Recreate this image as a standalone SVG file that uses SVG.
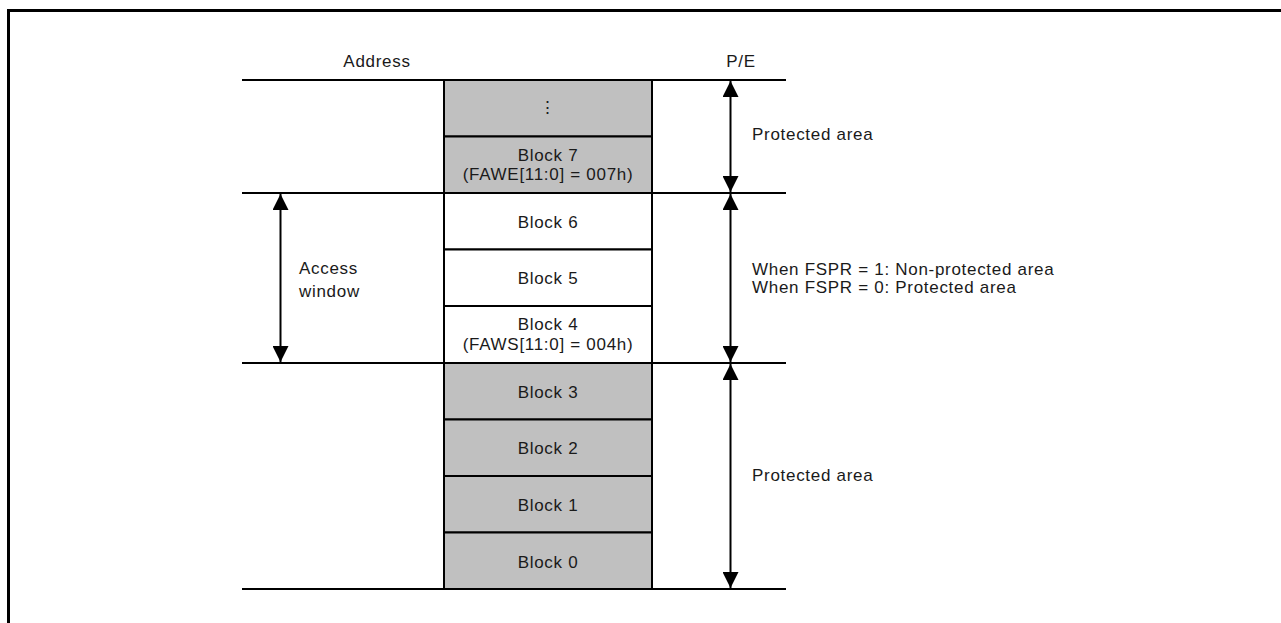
<svg xmlns="http://www.w3.org/2000/svg" width="1281" height="623" viewBox="0 0 1281 623">
<defs>
<style>
text{font-family:"Liberation Sans",Arial,sans-serif;font-size:17px;letter-spacing:0.7px;fill:#1a1a1a}
.c{text-anchor:middle}
.g{fill:#c0c0c0;stroke:#000;stroke-width:2}
.w{fill:#fff;stroke:#000;stroke-width:2}
.ln{stroke:#000;stroke-width:2;fill:none}
.ar{stroke:#000;stroke-width:2;fill:none;marker-start:url(#a);marker-end:url(#a)}
</style>
<marker id="a" viewBox="0 0 16 16" refX="16" refY="8" markerWidth="16" markerHeight="16" markerUnits="userSpaceOnUse" orient="auto-start-reverse">
<path d="M0,0 L16,8 L0,16 Z" fill="#000"/>
</marker>
</defs>
<path d="M8.5,623 V10.5 H1281" fill="none" stroke="#000" stroke-width="3"/>
<text x="377" y="66.5" class="c">Address</text>
<text x="741" y="66.5" class="c">P/E</text>
<g id="rows">
<g id="blk-dots"><rect x="444" y="80" width="208" height="56.5" class="g"/><text x="548" y="113" class="c">⋮</text></g>
<g id="blk7"><rect x="444" y="136.5" width="208" height="56.5" class="g"/><text x="548" y="160.5" class="c">Block 7</text><text x="548" y="180" class="c">(FAWE[11:0] = 007h)</text></g>
<g id="blk6"><rect x="444" y="193" width="208" height="56.5" class="w"/><text x="548" y="227.5" class="c">Block 6</text></g>
<g id="blk5"><rect x="444" y="249.5" width="208" height="56.5" class="w"/><text x="548" y="284" class="c">Block 5</text></g>
<g id="blk4"><rect x="444" y="306" width="208" height="57" class="w"/><text x="548" y="330" class="c">Block 4</text><text x="548" y="349.5" class="c">(FAWS[11:0] = 004h)</text></g>
<g id="blk3"><rect x="444" y="363" width="208" height="56.5" class="g"/><text x="548" y="397.5" class="c">Block 3</text></g>
<g id="blk2"><rect x="444" y="419.5" width="208" height="56.5" class="g"/><text x="548" y="454" class="c">Block 2</text></g>
<g id="blk1"><rect x="444" y="476" width="208" height="56.5" class="g"/><text x="548" y="510.5" class="c">Block 1</text></g>
<g id="blk0"><rect x="444" y="532.5" width="208" height="56.5" class="g"/><text x="548" y="567.5" class="c">Block 0</text></g>
</g>
<g id="connectors">
<line x1="242" y1="80" x2="786" y2="80" class="ln"/>
<line x1="242" y1="193" x2="786" y2="193" class="ln"/>
<line x1="242" y1="363" x2="786" y2="363" class="ln"/>
<line x1="242" y1="589" x2="786" y2="589" class="ln"/>
<line x1="730.5" y1="81" x2="730.5" y2="192" class="ar"/>
<line x1="730.5" y1="194" x2="730.5" y2="362" class="ar"/>
<line x1="730.5" y1="364" x2="730.5" y2="588" class="ar"/>
<line x1="280.5" y1="194" x2="280.5" y2="362" class="ar"/>
</g>
<g id="labels">
<text x="752" y="140">Protected area</text>
<text x="299" y="274">Access</text>
<text x="299" y="296.5">window</text>
<text x="752" y="275">When FSPR = 1: Non-protected area</text>
<text x="752" y="293">When FSPR = 0: Protected area</text>
<text x="752" y="480.5">Protected area</text>
</g>
</svg>
